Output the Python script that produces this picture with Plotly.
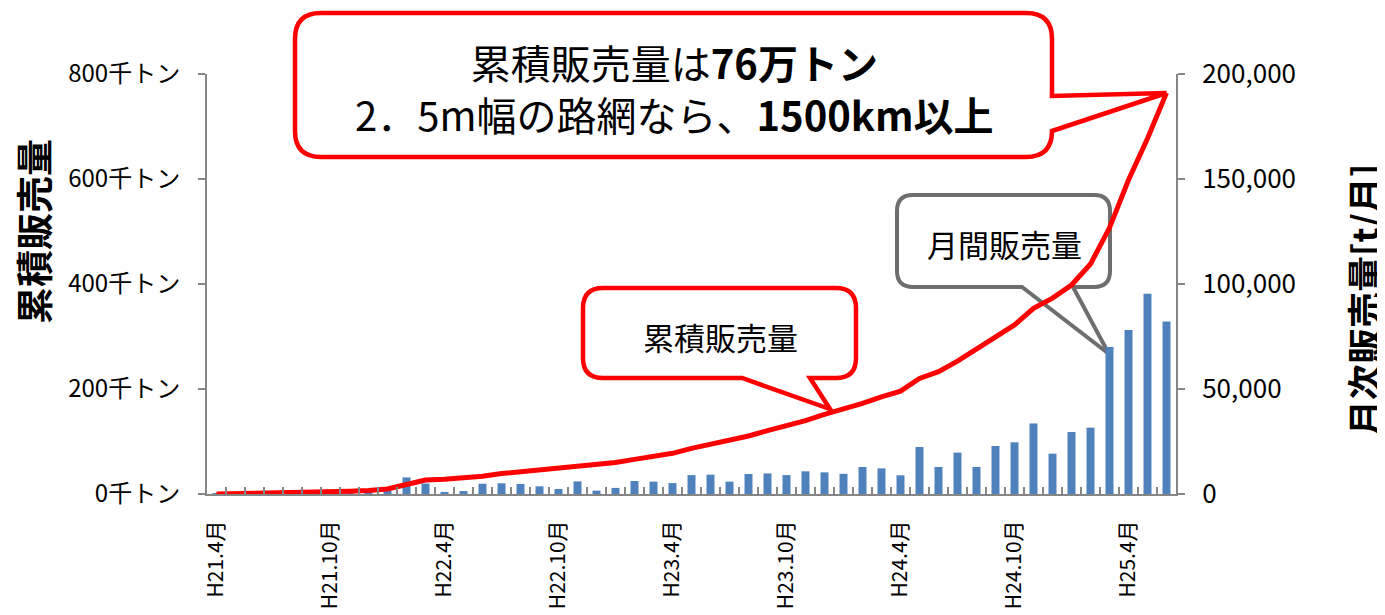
import plotly.graph_objects as go

# ---------------- data ----------------
eras = ["H21"] * 9 + ["H22"] * 12 + ["H23"] * 12 + ["H24"] * 12 + ["H25"] * 6
month_nums = [4, 5, 6, 7, 8, 9, 10, 11, 12, 1, 2, 3] * 4 + [4, 5, 6]
months = [f"{e}.{m}月" for e, m in zip(eras, month_nums)]

tick_labels = ["H21.4月", "H21.10月", "H22.4月", "H22.10月", "H23.4月",
               "H23.10月", "H24.4月", "H24.10月", "H25.4月"]

# monthly sales [t/month]
monthly = [300, 500, 600, 700, 900, 800, 700, 1000, 1300, 1600,
           7900, 5000, 1000, 1400, 4900, 5100, 4800, 3650, 2400, 6000,
           1600, 2900, 6200, 5900, 5200, 9000, 9200, 5900, 9500, 9800,
           9000, 10800, 10300, 9600, 12850, 12200, 8900, 22400, 12850, 19700,
           12850, 22850, 24600, 33600, 19200, 29500, 31600, 70000, 78100, 95400,
           82200]

# cumulative sales [thousand t]
cumulative = [0, 0.5, 1, 1.8, 2.7, 3.5, 4.2, 5.2, 6.5, 9.5,
              18, 26.7, 28, 30, 34, 39, 42.5, 45.7, 48.9, 54,
              57, 60, 66, 71.8, 77.5, 87, 95, 101.5, 110.5, 120.6,
              130, 139.6, 151.8, 161.5, 172.7, 185, 196, 220, 233, 253,
              275.5, 298, 322, 353.6, 373, 398, 438, 507, 598, 677,
              764]

left_vals = [0, 200, 400, 600, 800]
left_text = ["0千トン", "200千トン", "400千トン", "600千トン", "800千トン"]
right_vals = [0, 50000, 100000, 150000, 200000]
right_text = ["0", "50,000", "100,000", "150,000", "200,000"]

# ---------------- layout geometry (screen pixels) ----------------
OFF = 8  # default page body margin
W, H = 1385 - OFF, 615 - OFF
PL, PR, PT, PB = 207, 1176, 74, 494   # plot area on screen
FONT = "Noto Sans CJK JP"


def px(x):
    return (x - PL) / (PR - PL)


def py(y):
    return (PB - y) / (PB - PT)


def P(x, y):
    return f"{px(x):.5f},{py(y):.5f}"


def callout_bottom(x0, y0, x1, y1, r, ta, tb, tip):
    return (f"M{P(x0 + r, y0)} L{P(x1 - r, y0)} Q{P(x1, y0)} {P(x1, y0 + r)} "
            f"L{P(x1, y1 - r)} Q{P(x1, y1)} {P(x1 - r, y1)} L{P(tb, y1)} "
            f"L{P(*tip)} L{P(ta, y1)} L{P(x0 + r, y1)} Q{P(x0, y1)} {P(x0, y1 - r)} "
            f"L{P(x0, y0 + r)} Q{P(x0, y0)} {P(x0 + r, y0)} Z")


def callout_right(x0, y0, x1, y1, r, ta, tb, tip):
    return (f"M{P(x0 + r, y0)} L{P(x1 - r, y0)} Q{P(x1, y0)} {P(x1, y0 + r)} "
            f"L{P(x1, ta)} L{P(*tip)} L{P(x1, tb)} "
            f"L{P(x1, y1 - r)} Q{P(x1, y1)} {P(x1 - r, y1)} "
            f"L{P(x0 + r, y1)} Q{P(x0, y1)} {P(x0, y1 - r)} "
            f"L{P(x0, y0 + r)} Q{P(x0, y0)} {P(x0 + r, y0)} Z")


fig = go.Figure()
fig.add_trace(go.Bar(x=months, y=monthly, yaxis="y", width=0.42,
                     marker=dict(color="#4F81BD", line=dict(width=0)),
                     name="月間販売量"))
fig.add_trace(go.Scatter(x=months, y=cumulative, yaxis="y2", mode="lines",
                         line=dict(color="#FF0000", width=5),
                         name="累積販売量"))

ticktext = [m if m in tick_labels else "" for m in months]

axis_col = "#868686"
fig.update_layout(
    width=W, height=H,
    margin=dict(l=PL - OFF, r=W - (PR - OFF), t=PT - OFF, b=H - (PB - OFF), autoexpand=False),
    paper_bgcolor="white", plot_bgcolor="white",
    showlegend=False,
    font=dict(family=FONT, color="black"),
    bargap=0.5,
    xaxis=dict(type="category", tickmode="array", tickvals=months, ticktext=ticktext,
               tickson="boundaries", ticks="inside", ticklen=7, tickwidth=2,
               tickcolor=axis_col, tickangle=-90, ticklabelstandoff=16,
               tickfont=dict(size=21, family=FONT), automargin=False,
               showline=True, linecolor=axis_col, linewidth=2,
               showgrid=False, zeroline=False, range=[-0.5, 50.5]),
    yaxis=dict(side="right", range=[0, 200000], tickmode="array",
               tickvals=right_vals, ticktext=right_text,
               ticks="outside", ticklen=7, tickwidth=2, tickcolor=axis_col,
               showline=True, linecolor=axis_col, linewidth=2, automargin=False,
               showgrid=False, zeroline=False, ticklabelstandoff=12,
               tickfont=dict(size=26, family=FONT)),
    yaxis2=dict(side="left", overlaying="y", range=[0, 800], tickmode="array",
                tickvals=left_vals, ticktext=left_text,
                ticks="outside", ticklen=7, tickwidth=2, tickcolor=axis_col,
                showline=True, linecolor=axis_col, linewidth=2, automargin=False,
                showgrid=False, zeroline=False, ticklabelstandoff=13,
                tickfont=dict(size=24, family=FONT)),
)

red = "#FF0000"
gray = "#6E6E6E"
shapes = [
    dict(type="path", xref="paper", yref="paper", layer="below",
         path=callout_right(295, 13, 1052, 157, 26, 96, 131, (1166.5, 93)),
         line=dict(color=red, width=4.5), fillcolor="white"),
    dict(type="path", xref="paper", yref="paper", layer="below",
         path=callout_bottom(583, 288, 856, 378, 20, 742, 810, (830, 409)),
         line=dict(color=red, width=4.5), fillcolor="white"),
    dict(type="path", xref="paper", yref="paper", layer="below",
         path=callout_bottom(897, 195, 1110, 287, 16, 1022, 1073, (1109, 354)),
         line=dict(color=gray, width=4), fillcolor="white"),
]
fig.update_layout(shapes=shapes)

ann = [
    dict(text="累積販売量は<b>76万トン</b><br>2．5m幅の路網なら、<b>1500km以上</b>",
         x=px(674), y=py(88), size=40),
    dict(text="累積販売量", x=px(720), y=py(336), size=31),
    dict(text="月間販売量", x=px(1004), y=py(243), size=31),
]
for a in ann:
    fig.add_annotation(text=a["text"], x=a["x"], y=a["y"], xref="paper", yref="paper",
                       showarrow=False, xanchor="center", yanchor="middle",
                       font=dict(size=a["size"], family=FONT, color="black"))

fig.add_annotation(text="<b>累積販売量</b>", x=px(33), y=py(232), xref="paper", yref="paper",
                   showarrow=False, textangle=-90, xanchor="center", yanchor="middle",
                   font=dict(size=37, family=FONT, color="black"))
fig.add_annotation(text="<b>月次販売量[t/月]</b>", x=px(1363), y=py(300), xref="paper", yref="paper",
                   showarrow=False, textangle=-90, xanchor="center", yanchor="middle",
                   font=dict(size=36, family=FONT, color="black"))

fig.write_html("out.html")
